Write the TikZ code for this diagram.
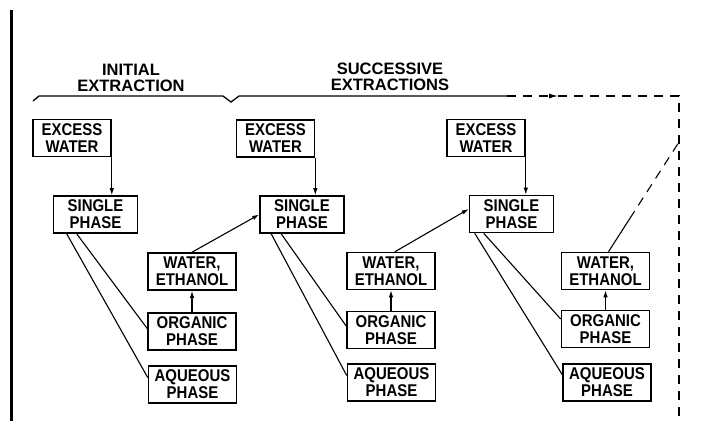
\documentclass[tikz,border=0pt]{standalone}
\usepackage{fontspec}
\setsansfont{Liberation Sans}
\newfontfamily\letterfont[FakeStretch=0.88]{Liberation Sans}
\usepackage{tikz}
\usetikzlibrary{arrows.meta, calc}

\tikzset{
  stagebox/.style={draw, line width=1.6pt, align=center, inner xsep=3pt, inner ysep=2pt,
    minimum height=37pt, font=\letterfont\bfseries\fontsize{17}{17}\selectfont},
  excessbox/.style={stagebox, minimum width=78pt},
  singlebox/.style={stagebox, minimum width=84pt},
  phasebox/.style={stagebox, minimum width=88pt},
  heading/.style={align=center, font=\sffamily\bfseries\fontsize{16.5}{16}\selectfont},
  flow/.style={line width=1.1pt},
  feed/.style={flow, -{Latex[length=7pt,width=4.5pt]}},
  recycle/.style={flow, dash pattern=on 9pt off 7pt},
}

\begin{document}
\begin{tikzpicture}[x=1pt, y=-1pt]
    \useasboundingbox (0,0) rectangle (703,421);

    % margin rule
    \draw[line width=3pt] (11,10) -- (11,421);

    % stage headings and brace
    \node[heading] (init) at (131,78) {INITIAL\\EXTRACTION};
    \node[heading] (succ) at (390,77) {SUCCESSIVE\\EXTRACTIONS};
    \draw[flow, line width=1.3pt] (33,101) -- (39,96) -- (223,96) -- (231,102) -- (239,96) -- (507,96) coordinate (brk);

    % initial extraction
    \node[excessbox] (ex1) at (72,138) {EXCESS\\WATER};
    \node[singlebox] (sp1) at (95.5,214.5) {SINGLE\\PHASE};
    \node[phasebox] (we1) at (192,271.5) {WATER,\\ETHANOL};
    \node[phasebox] (org1) at (192,331.5) {ORGANIC\\PHASE};
    \node[phasebox] (aq1) at (192.5,384.5) {AQUEOUS\\PHASE};

    % second extraction
    \node[excessbox] (ex2) at (275.5,138.5) {EXCESS\\WATER};
    \node[singlebox] (sp2) at (302,214.5) {SINGLE\\PHASE};
    \node[phasebox] (we2) at (391,271) {WATER,\\ETHANOL};
    \node[phasebox] (org2) at (391,330) {ORGANIC\\PHASE};
    \node[phasebox] (aq2) at (391.5,382.5) {AQUEOUS\\PHASE};

    % third extraction
    \node[excessbox] (ex3) at (486,138) {EXCESS\\WATER};
    \node[singlebox] (sp3) at (511.5,214) {SINGLE\\PHASE};
    \node[phasebox] (we3) at (605.5,271) {WATER,\\ETHANOL};
    \node[phasebox] (org3) at (605.5,329) {ORGANIC\\PHASE};
    \node[phasebox] (aq3) at (607,382.5) {AQUEOUS\\PHASE};

    % water feed
    \draw[feed] (ex1.south east) -- (ex1.south east |- sp1.north);
    \draw[feed] (ex2.south east) -- (ex2.south east |- sp2.north);
    \draw[feed] (ex3.south east) -- (ex3.south east |- sp3.north);

    % phase split
    \draw[flow] ([xshift=24pt]sp1.south west) -- ([yshift=3pt]org1.west);
    \draw[flow] ([xshift=14pt]sp1.south west) -- ([yshift=7pt]aq1.west);
    \draw[flow] ([xshift=22pt]sp2.south west) -- ([yshift=4pt]org2.west);
    \draw[flow] ([xshift=12pt]sp2.south west) -- ([yshift=7pt]aq2.west);
    \draw[flow] ([xshift=15pt]sp3.south west) -- ([yshift=10pt]org3.west);
    \draw[flow] ([xshift=6pt]sp3.south west) -- ([yshift=8pt]aq3.west);

    % solvent recovered from organic phase
    \draw[feed] (org1) -- (we1);
    \draw[feed] (org2) -- (we2);
    \draw[feed] (org3) -- (we3);

    % recycled to next stage
    \draw[feed] (we1.north) -- (sp2.west);
    \draw[feed] ([xshift=4pt]we2.north) -- ([yshift=5pt]sp3.west);

    % repeat loop
    \coordinate (loop) at (679,96);
    \coordinate (loopend) at (679,421);
    \coordinate (tap) at (679,142);
    \coordinate (tip) at (558,96);
    \draw[recycle, -{Latex[length=9pt,width=5pt]}] (brk) -- (tip);
    \draw[recycle] (tip) -- (loop) -- (loopend);
    \draw[flow] ([xshift=3pt]we3.north) -- ($([xshift=3pt]we3.north)!0.3!(tap)$) coordinate (mid);
    \draw[recycle] (mid) -- (tap);
\end{tikzpicture}
\end{document}
